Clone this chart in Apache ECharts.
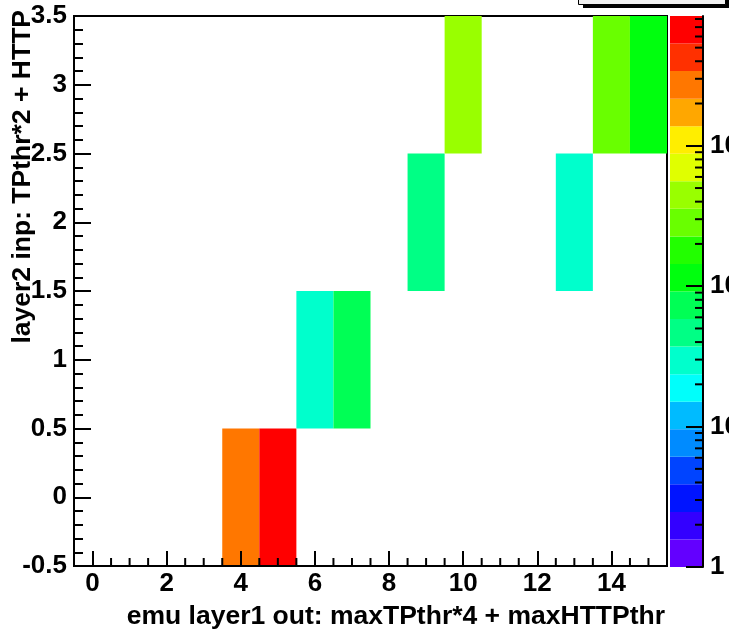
<!DOCTYPE html>
<html>
<head>
<meta charset="utf-8">
<script src="https://cdn.jsdelivr.net/npm/echarts@6/dist/echarts.min.js"></script>
<style>html,body{margin:0;padding:0;background:#fff}#c{width:729px;height:632px}</style>
</head>
<body>
<div id="c"></div>
<script>
// ---- data ----
const xBins = [4, 5, 6, 7, 9, 10, 13, 14, 15];
const yBins = [0, 0, 1, 1, 2, 3, 2, 3, 3];
const counts = [2700, 8400, 30, 73, 47, 450, 28, 280, 115];

const xTickLabels = [0, 2, 4, 6, 8, 10, 12, 14];
const xMinorTicks = [-0.5, 0.5, 1, 1.5, 2.5, 3, 3.5, 4.5, 5, 5.5, 6.5, 7, 7.5, 8.5, 9, 9.5, 10.5, 11, 11.5, 12.5, 13, 13.5, 14.5, 15, 15.5];
const zMin = 1;
const zMax = 8400;
const zDecades = [0, 1, 2, 3];
const zMinorMult = [2, 3, 4, 5, 6, 7, 8, 9];

// ROOT "pretty" palette colours used for the 20 contour levels (bottom -> top)
const paletteColors = ['#6300ff', '#3300ff', '#0014ff', '#0044ff', '#008bff', '#00bbff', '#00fffb', '#00ffcc', '#00ff85', '#00ff55',
  '#00ff0e', '#22ff00', '#69ff00', '#99ff00', '#e0ff00', '#ffee00', '#ffa700', '#ff7700', '#ff3000', '#ff0000'];

// ---- derived ----
const nLev = paletteColors.length;
const lzMin = Math.log10(zMin), lzMax = Math.log10(zMax);
const step = (lzMax - lzMin) / nLev;
const pieces = paletteColors.map((c, j) => {
  const p = { gte: Math.pow(10, lzMin + j * step), color: c };
  if (j < nLev - 1) p.lt = Math.pow(10, lzMin + (j + 1) * step); else p.lte = zMax * 1.0001;
  return p;
});
const cellData = xBins.map((x, i) => [x, yBins[i], counts[i]]);
const bandData = paletteColors.map((c, j) => [lzMin + j * step, lzMin + (j + 1) * step, Math.pow(10, lzMin + (j + 0.5) * step)]);
const zMinorTicks = [];
zDecades.forEach(d => zMinorMult.forEach(m => { const v = d + Math.log10(m); if (v <= lzMax) zMinorTicks.push(v); }));

const FONT = 'Liberation Sans';
const labelStyle = { color: '#000', fontFamily: FONT, fontWeight: 'bold', fontSize: 26 };
const tickLine = { stroke: '#000', lineWidth: 2 };

const chart = echarts.init(document.getElementById('c'), null, { renderer: 'canvas' });
chart.setOption({
  animation: false,
  backgroundColor: '#fff',
  grid: [
    { left: 74, top: 16, width: 593, height: 550, show: true, borderColor: '#000', borderWidth: 2,
      backgroundColor: 'transparent', containLabel: false, outerBoundsMode: 'none' },
    { left: 670, top: 16, width: 33, height: 551, containLabel: false, outerBoundsMode: 'none' }
  ],
  visualMap: {
    type: 'piecewise', show: false, seriesIndex: [0, 1], dimension: 2, pieces: pieces
  },
  xAxis: [
    { gridIndex: 0, type: 'value', min: -0.5, max: 15.5, position: 'bottom', z: 10,
      axisLine: { show: true, onZero: false, lineStyle: { color: '#000', width: 2 } },
      axisTick: { show: true, inside: true, length: 15, customValues: xTickLabels, lineStyle: { color: '#000', width: 2 } },
      axisLabel: Object.assign({ show: true, customValues: xTickLabels, margin: 5 }, labelStyle),
      splitLine: { show: false } },
    { gridIndex: 1, type: 'value', min: 0, max: 1, show: false }
  ],
  yAxis: [
    { gridIndex: 0, type: 'value', min: -0.5, max: 3.5, interval: 0.5, position: 'left', z: 10,
      axisLine: { show: true, onZero: false, lineStyle: { color: '#000', width: 2 } },
      axisTick: { show: true, inside: true, length: 17, lineStyle: { color: '#000', width: 2 } },
      minorTick: { show: true, splitNumber: 5, length: 9, lineStyle: { color: '#000', width: 2 } },
      axisLabel: Object.assign({ margin: 7 }, labelStyle),
      splitLine: { show: false }, minorSplitLine: { show: false } },
    { gridIndex: 1, type: 'value', min: lzMin, max: lzMax, position: 'right', z: 10,
      axisLine: { show: true, onZero: false, lineStyle: { color: '#000', width: 2 } },
      axisTick: { show: true, inside: true, length: 17, customValues: zDecades, lineStyle: { color: '#000', width: 2 } },
      axisLabel: Object.assign({ show: true, customValues: zDecades, margin: 7, align: 'left',
        formatter: v => v === 0 ? '1' : (v === 1 ? '10' : '10{s|' + v + '}'),
        rich: { s: { fontFamily: FONT, fontWeight: 'bold', fontSize: 16, verticalAlign: 'top', color: '#000' } } }, labelStyle),
      splitLine: { show: false } }
  ],
  series: [
    { type: 'custom', xAxisIndex: 0, yAxisIndex: 0, data: cellData, z: 2,
      dimensions: ['x', 'y', 'count'], encode: { x: 0, y: 1 },
      renderItem: (params, api) => {
        const x = api.value(0), y = api.value(1);
        const p0 = api.coord([x - 0.5, y + 0.5]);
        const p1 = api.coord([x + 0.5, y - 0.5]);
        return { type: 'rect', shape: { x: p0[0], y: p0[1], width: p1[0] - p0[0], height: p1[1] - p0[1] },
          style: { fill: api.visual('color'), stroke: null } };
      } },
    { type: 'custom', xAxisIndex: 1, yAxisIndex: 1, data: bandData, z: 2,
      dimensions: ['lo', 'hi', 'v'], encode: { y: [0, 1] },
      renderItem: (params, api) => {
        const p0 = api.coord([0, api.value(1)]);
        const p1 = api.coord([1, api.value(0)]);
        return { type: 'rect', shape: { x: p0[0], y: p0[1], width: p1[0] - p0[0], height: p1[1] - p0[1] },
          style: { fill: api.visual('color'), stroke: null } };
      } },
    // minor ticks on the x axis (inside, pointing up)
    { type: 'custom', xAxisIndex: 0, yAxisIndex: 0, data: xMinorTicks.map(v => [v]), z: 20, silent: true,
      dimensions: ['x'], encode: { x: 0 },
      renderItem: (params, api) => {
        const px = api.coord([api.value(0), 0])[0];
        const bottom = params.coordSys.y + params.coordSys.height;
        return { type: 'line', shape: { x1: px, y1: bottom, x2: px, y2: bottom - 8 }, style: tickLine };
      } },
    // minor ticks on the palette axis (inside, pointing left)
    { type: 'custom', xAxisIndex: 1, yAxisIndex: 1, data: zMinorTicks.map(v => [v]), z: 20, silent: true,
      dimensions: ['y'], encode: { y: 0 },
      renderItem: (params, api) => {
        const py = api.coord([0, api.value(0)])[1];
        const right = params.coordSys.x + params.coordSys.width;
        return { type: 'line', shape: { x1: right, y1: py, x2: right - 8, y2: py }, style: tickLine };
      } }
  ],
  graphic: [
    { type: 'rect', left: 583, top: -12, shape: { width: 146, height: 20 }, style: { fill: '#000' }, z: 20 },
    { type: 'rect', left: 578, top: -12, shape: { width: 147, height: 16 }, style: { fill: '#f0f0f0', stroke: '#000', lineWidth: 1 }, z: 21 },
    { type: 'text', x: 665, y: 617, z: 20,
      style: { text: 'emu layer1 out: maxTPthr*4 + maxHTTPthr', fill: '#000', font: 'bold 26.5px "Liberation Sans"', textAlign: 'right', textVerticalAlign: 'middle' } },
    { type: 'text', x: 23, y: 10, rotation: Math.PI / 2, z: 20,
      style: { text: 'layer2 inp: TPthr*2 + HTTP', fill: '#000', font: 'bold 26.5px "Liberation Sans"', textAlign: 'right', textVerticalAlign: 'middle' } }
  ]
});
</script>
</body>
</html>
